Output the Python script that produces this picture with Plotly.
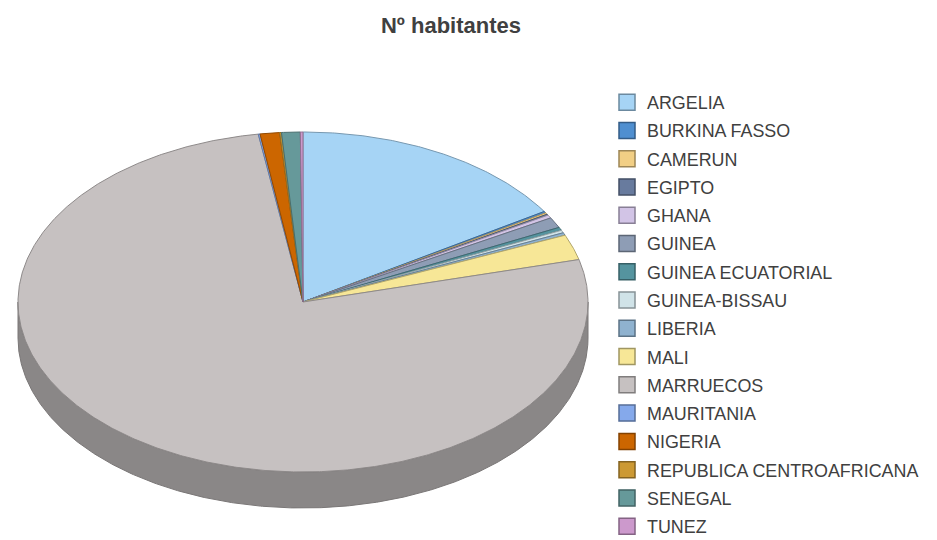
import numpy as np
import plotly.graph_objects as go

# ---------------- data ----------------
countries = ["ARGELIA", "BURKINA FASSO", "CAMERUN", "EGIPTO", "GHANA", "GUINEA",
             "GUINEA ECUATORIAL", "GUINEA-BISSAU", "LIBERIA", "MALI", "MARRUECOS",
             "MAURITANIA", "NIGERIA", "REPUBLICA CENTROAFRICANA", "SENEGAL", "TUNEZ"]
habitantes = [320, 3, 3, 2, 6, 20, 6, 5, 5, 48, 1524, 2, 22, 2, 21, 3]
colors = ["#A6D4F5", "#4F8FD0", "#F2CF85", "#687B9E", "#D2C4E6", "#8E9DB5",
          "#55949F", "#D0E3E8", "#8FB2CF", "#F7E797", "#C6C1C1", "#85A9EB",
          "#CC6600", "#CC9933", "#66999A", "#CC99CC"]
title_text = "Nº habitantes"

# ---------------- geometry (axes in screen-pixel units) ----------------
W, H = 937, 540
OFF = 8  # page body margin
cx, cy, rx, ry, depth = 303, 302, 285, 170, 36


def shade(hexc, f):
    hexc = hexc.lstrip("#")
    r, g, b = (int(hexc[i:i + 2], 16) for i in (0, 2, 4))
    return "#%02X%02X%02X" % (int(r * f), int(g * f), int(b * f))


def arc(a0, a1, dy=0.0):
    n = max(2, int(abs(a1 - a0) / 0.4) + 2)
    t = np.radians(np.linspace(a0, a1, n))
    return cx + rx * np.sin(t), cy - ry * np.cos(t) + dy


vals = np.array(habitantes, dtype=float)
ang = np.concatenate([[0.0], np.cumsum(vals / vals.sum() * 360.0)])

fig = go.Figure()

# side walls (front half only: 90..270 degrees clockwise from top)
for i, name in enumerate(countries):
    s0, s1 = max(ang[i], 90.0), min(ang[i + 1], 270.0)
    if s1 > s0:
        xt, yt = arc(s0, s1)
        xb, yb = arc(s1, s0, depth)
        fig.add_trace(go.Scatter(
            x=np.concatenate([xt, xb, xt[:1]]), y=np.concatenate([yt, yb, yt[:1]]),
            mode="lines", fill="toself", fillcolor=shade(colors[i], 0.70),
            line=dict(color=shade(colors[i], 0.62), width=1),
            legendgroup=name, showlegend=False, hoverinfo="skip"))

# top faces
for i, name in enumerate(countries):
    xa, ya = arc(ang[i], ang[i + 1])
    fig.add_trace(go.Scatter(
        x=np.concatenate([[cx], xa, [cx]]), y=np.concatenate([[cy], ya, [cy]]),
        mode="lines", fill="toself", fillcolor=colors[i],
        line=dict(color=shade(colors[i], 0.72), width=1),
        legendgroup=name, showlegend=False, name=name,
        hoveron="fills", text=f"{name}: {habitantes[i]}", hoverinfo="text"))

# legend entries
for i, name in enumerate(countries):
    fig.add_trace(go.Scatter(
        x=[None], y=[None], mode="markers", name=name, legendgroup=name,
        marker=dict(symbol="square", size=16, color=colors[i],
                    line=dict(color=shade(colors[i], 0.65), width=1.5))))

fig.update_layout(
    width=W, height=H,
    margin=dict(l=0, r=0, t=0, b=0, autoexpand=False),
    paper_bgcolor="white", plot_bgcolor="white",
    xaxis=dict(range=[OFF, W + OFF], visible=False, fixedrange=True),
    yaxis=dict(range=[H + OFF, OFF], visible=False, fixedrange=True),
    title=dict(text="<b>" + title_text + "</b>", x=(451 - OFF) / W, y=1 - (25 - OFF) / H,
               xanchor="center", yanchor="middle",
               font=dict(family="Liberation Sans, Arial, sans-serif", size=22, color="#404040")),
    legend=dict(x=(607 - OFF) / W, y=1 - (84 - OFF) / H, xanchor="left", yanchor="top",
                font=dict(family="Liberation Sans, Arial, sans-serif", size=17.9, color="#404040"),
                tracegroupgap=2, bgcolor="rgba(0,0,0,0)"),
    showlegend=True,
)

fig.write_html("out.html")
